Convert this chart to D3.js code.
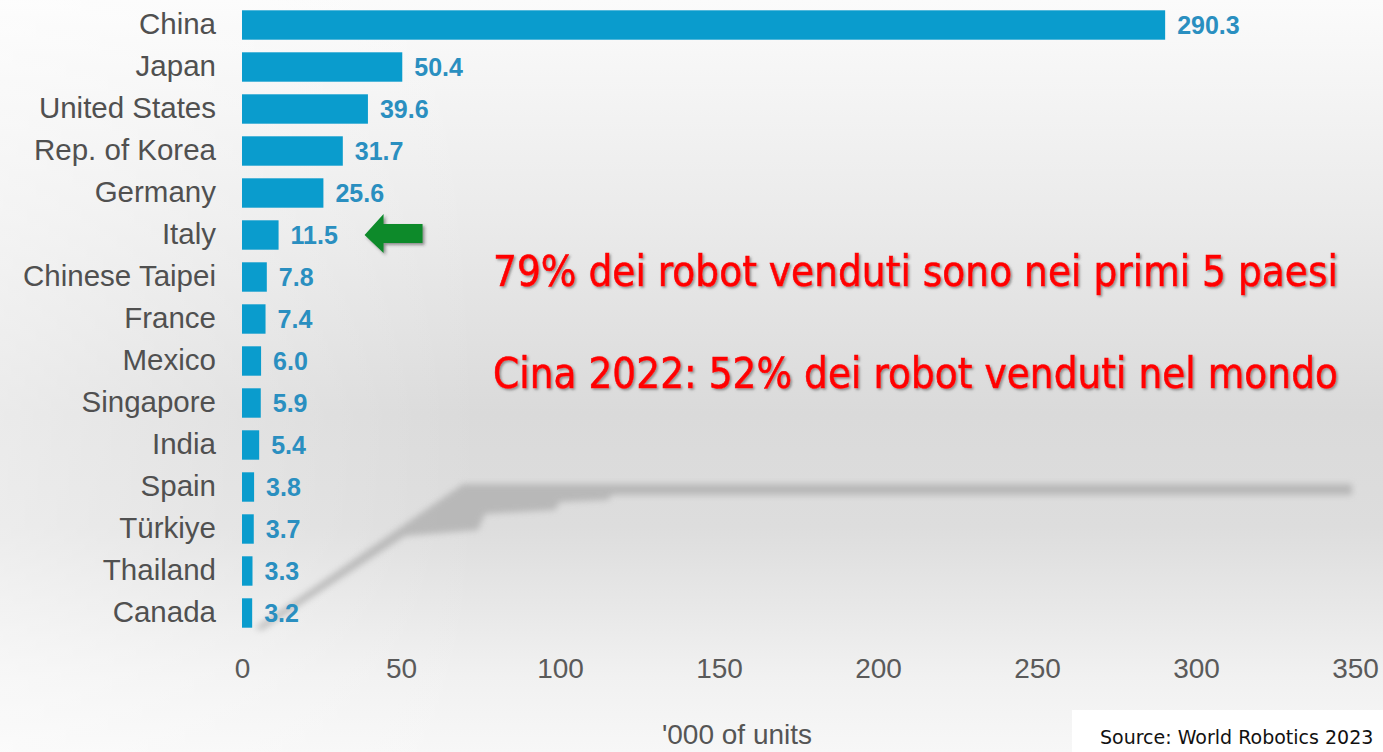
<!DOCTYPE html>
<html><head><meta charset="utf-8">
<script src="https://cdn.jsdelivr.net/npm/d3@7"></script>
<style>html,body{margin:0;padding:0;overflow:hidden;background:#fff}</style>
</head><body>
<script>
const countries = ["China","Japan","United States","Rep. of Korea","Germany","Italy","Chinese Taipei","France","Mexico","Singapore","India","Spain","Türkiye","Thailand","Canada"];
const values = [290.3,50.4,39.6,31.7,25.6,11.5,7.8,7.4,6.0,5.9,5.4,3.8,3.7,3.3,3.2];
const xTicks = [0,50,100,150,200,250,300,350];
const axisTitle = "'000 of units";
const notes = ["79% dei robot venduti sono nei primi 5 paesi","Cina 2022: 52% dei robot venduti nel mondo"];
const sourceText = "Source: World Robotics 2023";
const highlight = "Italy";

const W = 1383, H = 752;
const svg = d3.select("body").append("svg").attr("width",W).attr("height",H);
const defs = svg.append("defs");

const bg = defs.append("linearGradient").attr("id","bg").attr("x1",0).attr("y1",0).attr("x2",0).attr("y2",1);
[[0,"#fbfbfb"],[0.3,"#eaeaea"],[0.55,"#dadada"],[0.7,"#dddddd"],[0.9,"#f1f1f1"],[1,"#f7f7f7"]].forEach(([o,c])=>bg.append("stop").attr("offset",o).attr("stop-color",c));
const lg = defs.append("linearGradient").attr("id","lft").attr("x1",0).attr("y1",0).attr("x2",1).attr("y2",0);
lg.append("stop").attr("offset",0).attr("stop-color","#fff").attr("stop-opacity",0.45);
lg.append("stop").attr("offset",0.35).attr("stop-color","#fff").attr("stop-opacity",0);
defs.append("filter").attr("id","blur").attr("x","-10%").attr("y","-10%").attr("width","120%").attr("height","130%")
  .append("feGaussianBlur").attr("stdDeviation",3);
const ts = defs.append("filter").attr("id","tsh").attr("x","-5%").attr("y","-20%").attr("width","110%").attr("height","150%");
ts.append("feDropShadow").attr("dx",1.5).attr("dy",1.5).attr("stdDeviation",1).attr("flood-color","#555").attr("flood-opacity",0.6);
const as = defs.append("filter").attr("id","ash").attr("x","-20%").attr("y","-20%").attr("width","150%").attr("height","160%");
as.append("feDropShadow").attr("dx",2).attr("dy",2).attr("stdDeviation",1.5).attr("flood-color","#333").attr("flood-opacity",0.5);

svg.append("rect").attr("width",W).attr("height",H).attr("fill","url(#bg)");
svg.append("rect").attr("width",W).attr("height",H).attr("fill","url(#lft)");

// decorative shadow
svg.append("path").attr("filter","url(#blur)").attr("fill","#a9a9a9").attr("opacity",0.7)
  .attr("d","M255,628 L463,484 L1352,484 L1352,495 L612,495 L608,500 L560,502 L555,510 L485,514 L478,530 L405,536 L262,630 Z");

const x = d3.scaleLinear().domain([0,350]).range([242,1355]);
const y = d3.scaleBand().domain(countries).range([4,634]).paddingInner(0.3).paddingOuter(0.15);

svg.append("g").selectAll("rect").data(countries).join("rect")
  .attr("x",x(0)).attr("y",d=>y(d)).attr("width",(d,i)=>x(values[i])-x(0)).attr("height",y.bandwidth())
  .attr("fill","#0a9ccd");

svg.append("g").selectAll("text").data(countries).join("text")
  .attr("x",(d,i)=>x(values[i])+12).attr("y",d=>y(d)+y.bandwidth()/2).attr("dy","0.36em")
  .attr("font-family","Liberation Sans, Arial, sans-serif").attr("font-weight","bold").attr("font-size",25)
  .attr("fill","#2a8fc0").text((d,i)=>values[i].toFixed(1));

const ya = svg.append("g").attr("transform",`translate(${x(0)},0)`)
  .call(d3.axisLeft(y).tickSize(0).tickPadding(26));
ya.select(".domain").remove();
ya.selectAll("text").attr("font-family","Liberation Sans, Arial, sans-serif").attr("font-size",29.5).attr("fill","#505050");

const xa = svg.append("g").attr("transform","translate(0,655)")
  .call(d3.axisBottom(x).tickValues(xTicks).tickSize(0).tickPadding(3).tickFormat(d3.format("d")));
xa.select(".domain").remove();
xa.selectAll("text").attr("font-family","Liberation Sans, Arial, sans-serif").attr("font-size",28).attr("fill","#5a5a5a");

svg.append("text").attr("x",737).attr("y",744).attr("text-anchor","middle")
  .attr("font-family","Liberation Sans, Arial, sans-serif").attr("font-size",28).attr("fill","#555").text(axisTitle);

// arrow pointing to highlight
const hy = y(highlight)+y.bandwidth()/2;
const ax0 = x(values[countries.indexOf(highlight)])+86;
svg.append("path").attr("filter","url(#ash)").attr("fill","#0b8a2c")
  .attr("d",`M${ax0},${hy} L${ax0+19},${hy-21} L${ax0+19},${hy-11} L${ax0+58},${hy-11} L${ax0+58},${hy+8} L${ax0+19},${hy+8} L${ax0+19},${hy+18} Z`);

// notes
const nb = [286,388];
notes.forEach((t,i)=>{
  svg.append("text").attr("x",493).attr("y",nb[i]).attr("textLength",845).attr("lengthAdjust","spacingAndGlyphs")
    .attr("font-family","DejaVu Sans Condensed, DejaVu Sans, sans-serif").attr("font-size",43)
    .attr("fill","#ff0000").attr("stroke","#ff0000").attr("stroke-width",0.6).attr("filter","url(#tsh)").text(t);
});

// source box
svg.append("rect").attr("x",1072).attr("y",710).attr("width",W-1072).attr("height",H-710).attr("fill","#fff");
svg.append("text").attr("x",1100).attr("y",744).attr("font-family","DejaVu Sans, sans-serif").attr("font-size",19)
  .attr("fill","#111").text(sourceText);
</script>
</body></html>
